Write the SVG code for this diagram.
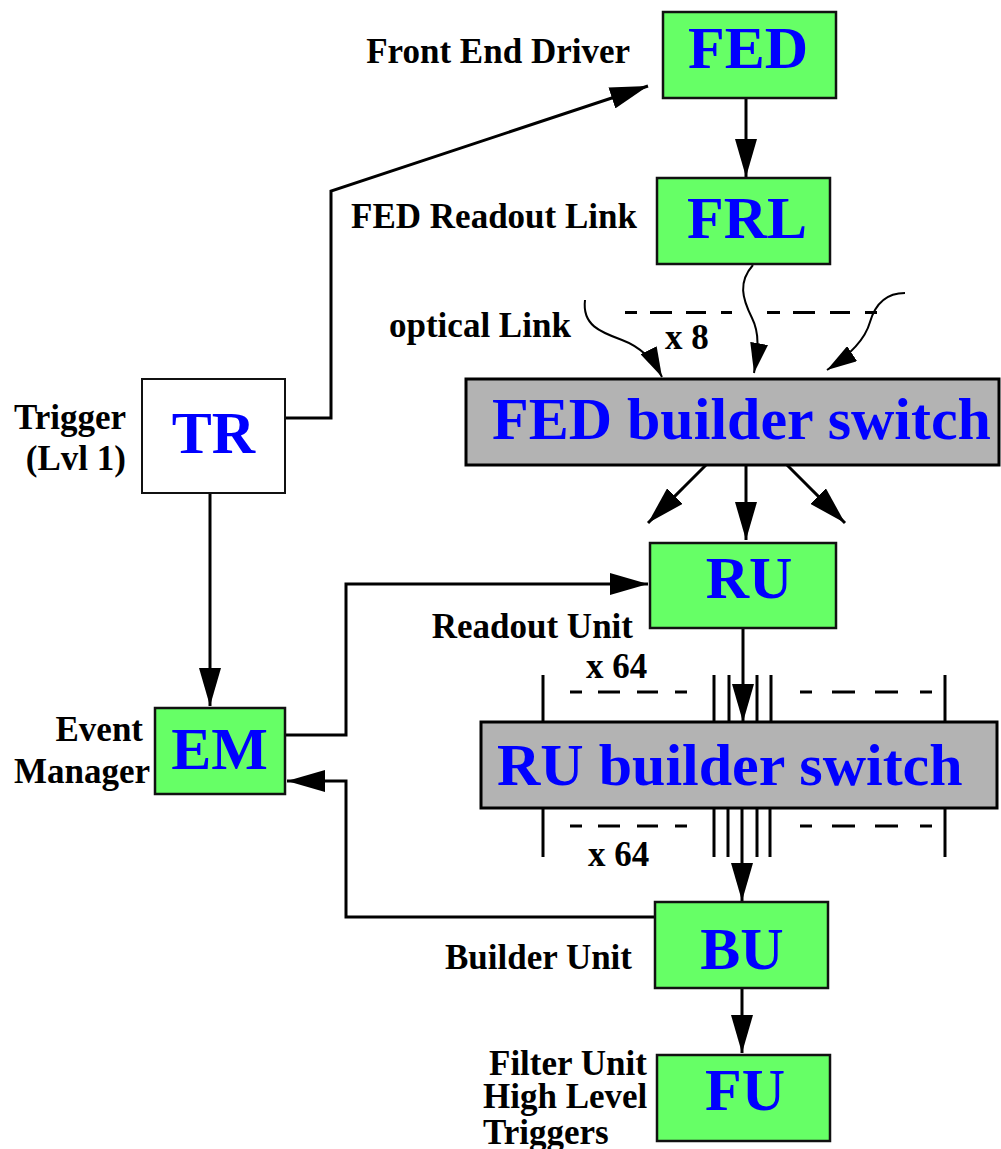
<svg xmlns="http://www.w3.org/2000/svg" width="1001" height="1149" viewBox="0 0 1001 1149">
<style>
.box{fill:#66ff66;stroke:#111;stroke-width:2.5}
.sw{fill:#b3b3b3;stroke:#000;stroke-width:3}
.wbox{fill:#fff;stroke:#111;stroke-width:2}
.bt{font-family:"Liberation Serif","Times New Roman",serif;font-weight:bold;font-size:60px;fill:#0000ff}
.lb{font-family:"Liberation Serif","Times New Roman",serif;font-weight:bold;font-size:35px;fill:#000}
.c{fill:none;stroke:#000;stroke-width:3}
.a{marker-end:url(#ah)}
.s{marker-end:url(#sh)}
.thin{fill:none;stroke:#000;stroke-width:2}
</style>
<defs>
<marker id="ah" markerUnits="userSpaceOnUse" markerWidth="38" markerHeight="22" viewBox="0 0 38 22" refX="38" refY="11" orient="auto"><path d="M0,0 L38,11 L0,22 z" fill="#000"/></marker>
<marker id="sh" markerUnits="userSpaceOnUse" markerWidth="30" markerHeight="18" viewBox="0 0 30 18" refX="30" refY="9" orient="auto"><path d="M0,0 L30,9 L0,18 z" fill="#000"/></marker>
</defs>
<rect width="1001" height="1149" fill="#fff"/>

<g id="connectors">
<line class="c a" x1="746" y1="98" x2="746" y2="177"/>
<polyline class="c a" points="285,418 331,418 331,191 648,86"/>
<path class="thin s" d="M753,265 C738,282 742,298 752,318 C760,334 758,350 754,373"/>
<path class="thin s" d="M585,300 C582,325 600,332 622,340 C638,346 652,357 662,377"/>
<path class="thin s" d="M905,293 C885,293 875,305 870,322 C865,340 850,355 827,370"/>
<g class="c">
<line x1="625" y1="312.5" x2="637" y2="312.5"/>
<line x1="650" y1="312.5" x2="672" y2="312.5"/>
<line x1="686" y1="312.5" x2="706" y2="312.5"/>
<line x1="721" y1="312.5" x2="732" y2="312.5"/>
<line x1="767" y1="312.5" x2="780" y2="312.5"/>
<line x1="793" y1="312.5" x2="815" y2="312.5"/>
<line x1="830" y1="312.5" x2="850" y2="312.5"/>
<line x1="865" y1="312.5" x2="877" y2="312.5"/>
</g>
<line class="c a" x1="708" y1="463" x2="648" y2="523"/>
<line class="c a" x1="746" y1="465" x2="746" y2="540"/>
<line class="c a" x1="785" y1="463" x2="845" y2="523"/>
<line class="c a" x1="743" y1="628" x2="743" y2="722"/>
<line class="c a" x1="742" y1="808" x2="742" y2="901"/>
<line class="c a" x1="742" y1="988" x2="742" y2="1053"/>
<line class="c a" x1="210" y1="493" x2="210" y2="706"/>
<polyline class="c a" points="285,735 346,735 346,584 648,584"/>
<polyline class="c a" points="655,917 346,917 346,781 287,781"/>
<g class="c">
<line x1="543" y1="675" x2="543" y2="722"/>
<line x1="714" y1="675" x2="714" y2="722"/>
<line x1="729" y1="675" x2="729" y2="722"/>
<line x1="757" y1="675" x2="757" y2="722"/>
<line x1="771" y1="675" x2="771" y2="722"/>
<line x1="945" y1="675" x2="945" y2="722"/>
<line x1="543" y1="808" x2="543" y2="857"/>
<line x1="714" y1="808" x2="714" y2="857"/>
<line x1="728" y1="808" x2="728" y2="857"/>
<line x1="757" y1="808" x2="757" y2="857"/>
<line x1="770" y1="808" x2="770" y2="857"/>
<line x1="945" y1="808" x2="945" y2="857"/>
<line x1="570" y1="692" x2="582" y2="692"/>
<line x1="598" y1="692" x2="620" y2="692"/>
<line x1="637" y1="692" x2="658" y2="692"/>
<line x1="675" y1="692" x2="687" y2="692"/>
<line x1="800" y1="692" x2="812" y2="692"/>
<line x1="832" y1="692" x2="855" y2="692"/>
<line x1="875" y1="692" x2="898" y2="692"/>
<line x1="920" y1="692" x2="932" y2="692"/>
<line x1="570" y1="826" x2="582" y2="826"/>
<line x1="598" y1="826" x2="620" y2="826"/>
<line x1="637" y1="826" x2="658" y2="826"/>
<line x1="675" y1="826" x2="687" y2="826"/>
<line x1="800" y1="826" x2="812" y2="826"/>
<line x1="832" y1="826" x2="855" y2="826"/>
<line x1="875" y1="826" x2="898" y2="826"/>
<line x1="920" y1="826" x2="932" y2="826"/>
</g>
</g>

<g id="FED"><rect class="box" x="663" y="12" width="173" height="86"/><text class="bt" x="748" y="68" text-anchor="middle">FED</text><text class="lb" x="630" y="63" text-anchor="end">Front End Driver</text></g>
<g id="FRL"><rect class="box" x="657" y="178" width="173" height="86"/><text class="bt" x="747" y="238" text-anchor="middle">FRL</text><text class="lb" x="637" y="228" text-anchor="end">FED Readout Link</text></g>
<g id="optical"><text class="lb" x="389" y="337">optical Link</text><text class="lb" x="665" y="349">x 8</text></g>
<g id="FEDswitch"><rect class="sw" x="466" y="379" width="533" height="86"/><text class="bt" x="492" y="439">FED builder switch</text></g>
<g id="TR"><rect class="wbox" x="142" y="379" width="143" height="114"/><text class="bt" x="213.5" y="453" text-anchor="middle">TR</text><text class="lb" x="126" y="429" text-anchor="end">Trigger</text><text class="lb" x="126" y="470" text-anchor="end">(Lvl 1)</text></g>
<g id="RU"><rect class="box" x="650" y="543" width="186" height="85"/><text class="bt" x="749" y="598" text-anchor="middle">RU</text><text class="lb" x="633" y="638" text-anchor="end">Readout Unit</text><text class="lb" x="586" y="678">x 64</text></g>
<g id="RUswitch"><rect class="sw" x="481" y="722" width="516" height="86"/><text class="bt" x="497" y="785">RU builder switch</text><text class="lb" x="588" y="866">x 64</text></g>
<g id="EM"><rect class="box" x="155" y="708" width="130" height="86"/><text class="bt" x="219.5" y="769" text-anchor="middle">EM</text><text class="lb" x="143" y="741" text-anchor="end">Event</text><text class="lb" x="150" y="783" text-anchor="end">Manager</text></g>
<g id="BU"><rect class="box" x="655" y="902" width="173" height="86"/><text class="bt" x="742" y="969" text-anchor="middle">BU</text><text class="lb" x="632" y="969" text-anchor="end">Builder Unit</text></g>
<g id="FU"><rect class="box" x="657" y="1055" width="173" height="86"/><text class="bt" x="745" y="1110" text-anchor="middle">FU</text><text class="lb" x="489" y="1075">Filter Unit</text><text class="lb" x="483" y="1108">High Level</text><text class="lb" x="483" y="1144">Triggers</text></g>
</svg>
